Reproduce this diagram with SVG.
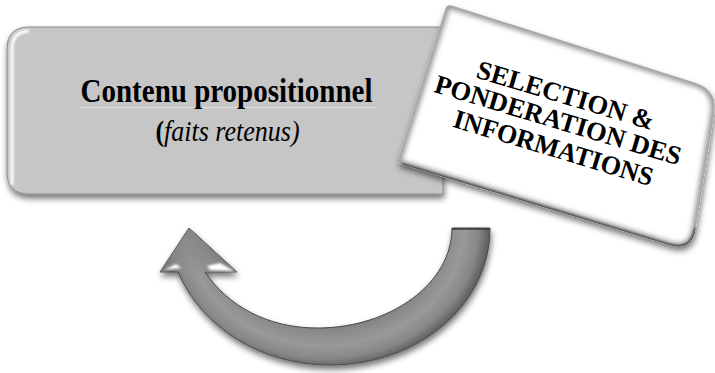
<svg xmlns="http://www.w3.org/2000/svg" width="715" height="373" viewBox="0 0 715 373">
  <defs>
    <style>
      .serif { font-family: "Liberation Serif", "Times New Roman", serif; fill: #000; }
      .title { font-size: 29px; font-weight: bold; }
      .sub { font-size: 26px; font-style: italic; }
      .card-text { font-size: 26.5px; font-weight: bold; }
    </style>
    <filter id="shadow" x="-10%" y="-10%" width="125%" height="135%">
      <feGaussianBlur in="SourceAlpha" stdDeviation="3"/>
      <feOffset dx="1" dy="4" result="b"/>
      <feComponentTransfer><feFuncA type="linear" slope="0.55"/></feComponentTransfer>
      <feMerge><feMergeNode/><feMergeNode in="SourceGraphic"/></feMerge>
    </filter>
    <filter id="soft" x="-20%" y="-20%" width="140%" height="140%">
      <feGaussianBlur stdDeviation="2.5"/>
    </filter>
    <filter id="softer" x="-20%" y="-20%" width="140%" height="140%">
      <feGaussianBlur stdDeviation="1.2"/>
    </filter>
    <clipPath id="boxClip">
      <path d="M 29,27 H 443 V 194 H 29 Q 7,194 7,172 V 49 Q 7,27 29,27 Z"/>
    </clipPath>
    <clipPath id="cardClip">
      <path id="cardShape" d="M 451.8,5.5 L 695.1,82.8 Q 718,90 714.2,113.7 L 695.8,228.3 Q 692,252 669,245.1 L 401.8,164.4 Q 397,163 398.5,158.2 L 445.5,8.8 Q 447,4 451.8,5.5 Z"/>
    </clipPath>
    <radialGradient id="arrowBody" gradientUnits="userSpaceOnUse" cx="325" cy="228" r="165" gradientTransform="translate(325 228) scale(1 0.85) translate(-325 -228)">
      <stop offset="0.66" stop-color="#6c6c6c"/>
      <stop offset="0.73" stop-color="#888888"/>
      <stop offset="0.84" stop-color="#999999"/>
      <stop offset="0.93" stop-color="#878787"/>
      <stop offset="1" stop-color="#5c5c5c"/>
    </radialGradient>
    <linearGradient id="headGrad" x1="0" y1="0" x2="0" y2="1">
      <stop offset="0" stop-color="#7c7c7c"/>
      <stop offset="1" stop-color="#929292"/>
    </linearGradient>
  </defs>

  <!-- curved return arrow -->
  <g id="connectors">
    <g filter="url(#shadow)">
      <path d="M 490,228 C 490,305 418,365 330,365 C 262,365 202,328 178,272 L 160,272 L 189,228 L 237,272 L 205,272 C 228,306 268,328 317,328 C 391,328 452,283 452,228 Z" fill="url(#arrowBody)" stroke="#4a4a4a" stroke-width="1"/>
    </g>
    <!-- arrowhead facet and highlights -->
    <path d="M 160,272 L 189,228 L 237,272 L 205,272 L 182,270 Z" fill="url(#headGrad)" opacity="0.6"/>
    <path d="M 164,270 L 176,264 L 181,268 Z" fill="#ffffff" filter="url(#softer)"/>
    <path d="M 207,266 L 220,263 L 234,271 L 210,270 Z" fill="#ffffff" filter="url(#softer)"/>
    <path d="M 452,229 H 490" stroke="#3a3a3a" stroke-width="1.5"/>
  </g>

  <!-- left box -->
  <g id="contenu">
    <path d="M 29,27 H 443 V 194 H 29 Q 7,194 7,172 V 49 Q 7,27 29,27 Z" fill="#c6c6c6" stroke="#8a8a8a" stroke-width="1" filter="url(#shadow)"/>
    <g clip-path="url(#boxClip)">
      <path d="M 12,185 V 49 Q 12,32 29,31" fill="none" stroke="#ffffff" stroke-width="3" filter="url(#softer)"/>
      <path d="M 14,192 H 443" stroke="#6a6a6a" stroke-width="3" filter="url(#softer)"/>
      <path d="M 29,28 H 443" stroke="#9a9a9a" stroke-width="2" filter="url(#softer)"/>
    </g>
    <line x1="80" y1="107.5" x2="375" y2="107.5" stroke="#dedede" stroke-width="1"/>
    <text class="serif title" transform="translate(226.5 102) scale(1 1.13)" text-anchor="middle">Contenu propositionnel</text>
    <text class="serif sub" transform="translate(227.5 140.5) scale(1 1.13)" text-anchor="middle"><tspan font-style="normal" font-weight="bold">(</tspan>faits retenus)</text>
  </g>

  <!-- tilted card -->
  <g id="selection">
    <g filter="url(#shadow)">
      <use href="#cardShape" fill="#ffffff"/>
    </g>
    <g clip-path="url(#cardClip)">
      <use href="#cardShape" fill="none" stroke="#9a9a9a" stroke-width="8" filter="url(#soft)"/>
      <path d="M 401.8,164.4 L 669,245.1 Q 692,252 695.8,228.3" fill="none" stroke="#3c3c3c" stroke-width="3" filter="url(#softer)"/>
    </g>
    <g transform="translate(557 131) rotate(16.7)">
      <text class="serif card-text" x="-94" y="-28" textLength="184" lengthAdjust="spacingAndGlyphs">SELECTION &amp;</text>
      <text class="serif card-text" x="-130" y="-2" textLength="256" lengthAdjust="spacingAndGlyphs">PONDERATION DES</text>
      <text class="serif card-text" x="-102" y="26" textLength="207" lengthAdjust="spacingAndGlyphs">INFORMATIONS</text>
    </g>
  </g>
</svg>
